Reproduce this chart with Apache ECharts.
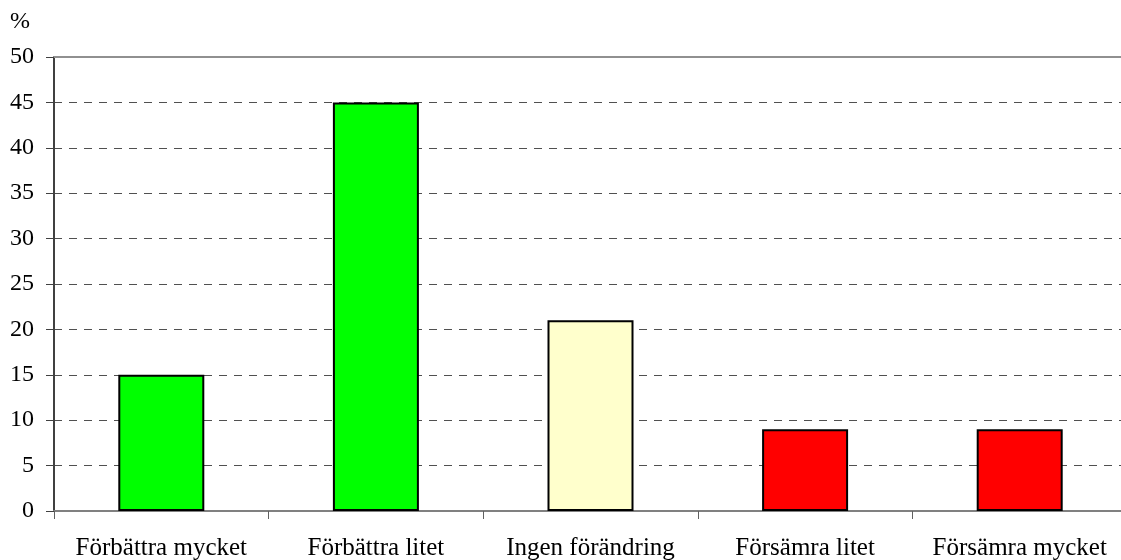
<!DOCTYPE html>
<html>
<head>
<meta charset="utf-8">
<script src="https://cdn.jsdelivr.net/npm/echarts@6/dist/echarts.min.js"></script>
<style>
  html, body { margin: 0; padding: 0; background: #fff; }
  #chart { width: 1121px; height: 560px; }
</style>
</head>
<body>
<div id="chart"></div>
<script>
const categories = ['Förbättra mycket', 'Förbättra litet', 'Ingen förändring', 'Försämra litet', 'Försämra mycket']
const values = [15, 45, 21, 9, 9]
const barColors = ['#00ff00', '#00ff00', '#ffffcc', '#ff0000', '#ff0000']
const yTicks = { min: 0, max: 50, interval: 5 }

const font = 'Liberation Serif, Times New Roman, serif'
const chart = echarts.init(document.getElementById('chart'))

const option = {
  animation: false,
  title: {
    text: '%',
    left: 5,
    top: 5,
    textStyle: { fontFamily: font, fontSize: 24, fontWeight: 'normal', color: '#000' }
  },
  grid: {
    left: 54,
    top: 57,
    width: 1073,
    height: 454,
    outerBoundsMode: 'none'
  },
  xAxis: [{
    type: 'category',
    data: categories,
    axisLine: { lineStyle: { color: '#808080', width: 2 } },
    axisTick: { show: true, length: 8, lineStyle: { color: '#606060' } },
    axisLabel: { fontFamily: font, fontSize: 25, color: '#000', margin: 25, interval: 0 }
  }, {
    type: 'category',
    position: 'top',
    data: categories,
    axisLine: { show: true, onZero: false, lineStyle: { color: '#909090', width: 2 } },
    axisTick: { show: false },
    axisLabel: { show: false }
  }],
  yAxis: {
    type: 'value',
    min: yTicks.min,
    max: yTicks.max,
    interval: yTicks.interval,
    axisLine: { show: true, lineStyle: { color: '#404040', width: 2 } },
    axisTick: { show: true, length: 8, lineStyle: { color: '#404040' } },
    axisLabel: { fontFamily: font, fontSize: 24, color: '#000', margin: 20 },
    splitLine: { lineStyle: { color: '#505050', type: [8, 7], width: 1 } }
  },
  series: [{
    type: 'bar',
    barWidth: 86,
    data: values.map((v, i) => ({
      value: v,
      itemStyle: { color: barColors[i] }
    })),
    itemStyle: { borderColor: '#000', borderWidth: 2 }
  }]
}
chart.setOption(option)
</script>
</body>
</html>
